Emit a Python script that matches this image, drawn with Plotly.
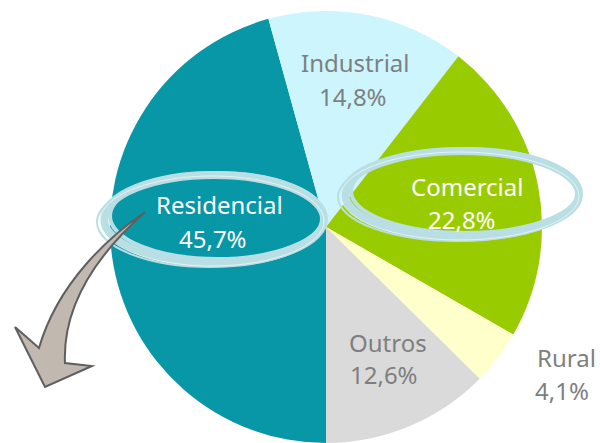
import plotly.graph_objects as go

# Consumo por classe (%)
classes = ['Residencial', 'Industrial', 'Comercial', 'Rural', 'Outros']
shares = [45.7, 14.8, 22.8, 4.1, 12.6]
colors = ['#0897a7', '#ccf5fd', '#99cc00', '#ffffcc', '#dadada']
label_colors = ['white', '#7f7f7f', 'white', '#7f7f7f', '#7f7f7f']

W, H = 600, 443

# label centres in pixels (name line, value line)
label_pos = {
    'Residencial': ((220, 204), (213, 238)),
    'Industrial': ((355, 62), (353, 97)),
    'Comercial': ((467, 187), (462, 219)),
    'Rural': ((566, 357), (562, 390)),
    'Outros': ((388, 342), (384, 374)),
}


def pp(x, y):
    # pixel -> paper coords
    return x / W, 1 - y / H


def pt(x, y):
    a, b = pp(x, y)
    return f'{a:.4f},{b:.4f}'


fig = go.Figure()
cx, cy, r = 326, 227, 216
fig.add_trace(go.Pie(
    labels=classes, values=shares, sort=False, direction='clockwise',
    rotation=180, textinfo='none', showlegend=False,
    marker=dict(colors=colors, line=dict(width=0)),
    domain=dict(x=[(cx - r) / W, (cx + r) / W], y=[0, 2 * r / H]),
))

annotations = []
for name, val, col in zip(classes, shares, label_colors):
    (nx, ny), (vx, vy) = label_pos[name]
    for txt, (x, y) in [(name, (nx, ny)), (f'{val:.1f}'.replace('.', ',') + '%', (vx, vy))]:
        ax, ay = pp(x, y)
        annotations.append(dict(x=ax, y=ay, xref='paper', yref='paper', text=txt,
                                showarrow=False, xanchor='center', yanchor='middle',
                                font=dict(family='Noto Sans', size=24, color=col)))

shapes = []
# brush-like rings around Residencial and Comercial
for (ex, ey, rx, ry) in [(214, 219, 110, 44), (462, 194, 117, 43)]:
    for dx, dy, drx, dry, w, c in [(0, 0, 0, 0, 8, '#b9dfe4'),
                                   (3, -3, -3, -1, 4, '#b9dfe4'),
                                   (-4, 3, 3, 1, 2, '#b9dfe4'),
                                   (-2, 2, 2, 1, 1, 'rgba(255,255,255,0.6)')]:
        x0, y0 = pp(ex + dx - rx - drx, ey + dy - ry - dry)
        x1, y1 = pp(ex + dx + rx + drx, ey + dy + ry + dry)
        shapes.append(dict(type='circle', xref='paper', yref='paper',
                           x0=x0, x1=x1, y0=y1, y1=y0, layer='above',
                           line=dict(color=c, width=w)))

# curved arrow
arrow = ('M ' + pt(145, 212) + ' C ' + pt(110, 236) + ' ' + pt(58, 282) + ' ' + pt(39, 348)
         + ' L ' + pt(15, 327) + ' L ' + pt(45, 387) + ' L ' + pt(92, 366) + ' L ' + pt(65, 363)
         + ' C ' + pt(63, 318) + ' ' + pt(82, 268) + ' ' + pt(145, 212) + ' Z')
shapes.append(dict(type='path', xref='paper', yref='paper', path=arrow, layer='above',
                   fillcolor='#c1b8af', line=dict(color='#5f5f5f', width=2)))

fig.update_layout(
    width=W, height=H, margin=dict(l=0, r=0, t=0, b=0),
    paper_bgcolor='white', plot_bgcolor='white',
    annotations=annotations, shapes=shapes,
)

# drop the page's default 8px body margin so the figure sits at the window corner
fig.write_html('out.html', config={'displayModeBar': False},
               post_script="document.body.style.margin='0';")
